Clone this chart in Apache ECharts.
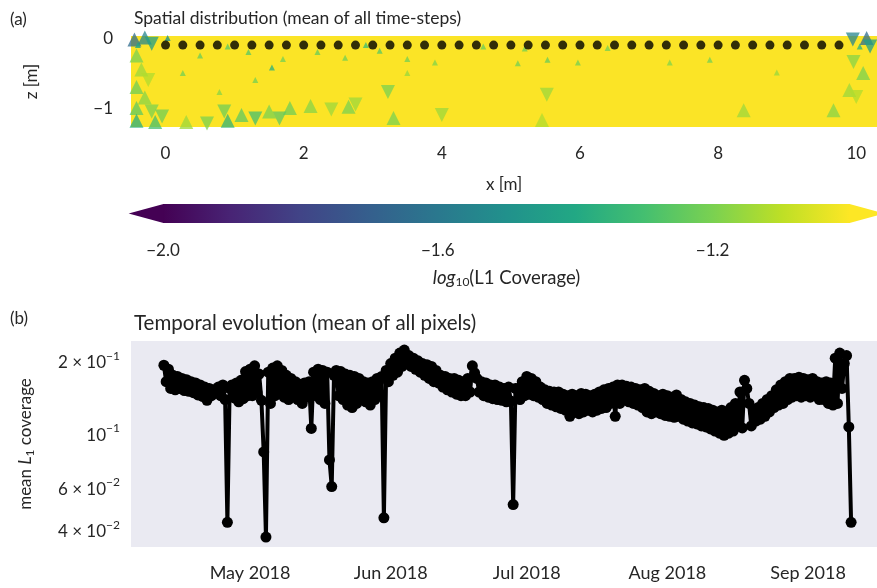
<!DOCTYPE html>
<html><head><meta charset="utf-8">
<script src="https://cdn.jsdelivr.net/npm/echarts@6/dist/echarts.min.js"></script>
<style>html,body{margin:0;padding:0;background:#fff}#c{width:877px;height:588px}</style>
</head><body><div id="c"></div>
<script>
// ---------- panel (a): spatial distribution ----------
const electrodeX = [0,0.25,0.5,0.75,1,1.25,1.5,1.75,2,2.25,2.5,2.75,3,3.25,3.5,3.75,4,4.25,4.5,4.75,
  5,5.25,5.5,5.75,6,6.25,6.5,6.75,7,7.25,7.5,7.75,8,8.25,8.5,8.75,9,9.25,9.5,9.75];
const electrodeZ = -0.1;
// mesh cells that differ from the (saturated) background: [x, z, log10 coverage]
const meshUp = [[-0.45,-0.02,-1.65],[-0.3,0.01,-1.55],[-0.42,-0.25,-1.2],[-0.35,-0.45,-1.15],[-0.42,-0.7,-1.22],
  [-0.3,-0.85,-1.18],[-0.42,-1.0,-1.25],[-0.42,-1.18,-1.38],[-0.15,-1.2,-1.3],[0.3,-1.2,-1.15],[0.9,-1.18,-1.35],
  [1.1,-1.1,-1.25],[1.5,-1.05,-1.2],[1.8,-1.0,-1.22],[2.1,-0.97,-1.18],[2.65,-0.98,-1.2],[3.3,-1.14,-1.2],
  [5.45,-1.17,-1.12],[9.67,-1.03,-1.18],[9.9,-0.74,-1.15],[8.37,-1.03,-1.15],[10.15,0.0,-1.65],[10.1,-0.5,-1.2]];
const meshDown = [[-0.2,-0.08,-1.45],[-0.25,-0.6,-1.12],[-0.2,-1.05,-1.2],[-0.05,-1.12,-1.22],[0.6,-1.22,-1.2],
  [0.85,-1.05,-1.22],[1.3,-1.15,-1.3],[1.65,-1.15,-1.25],[2.4,-1.02,-1.15],[2.75,-0.95,-1.15],[3.22,-0.77,-1.2],
  [4.0,-1.1,-1.15],[5.52,-0.81,-1.15],[9.95,-0.02,-1.55],[10.2,-0.12,-1.45],[10.0,-0.84,-1.12],[9.96,-0.34,-1.18]];
const meshSpecks = [[0.03,0.0,-1.5],[0.25,-0.5,-1.2],[0.78,-0.77,-1.17],[1.3,-0.6,-1.2],[1.54,-0.42,-1.35],
  [0.5,-0.25,-1.22],[1.2,-0.2,-1.25],[1.7,-0.3,-1.2],[2.2,-0.2,-1.22],[2.6,-0.28,-1.2],[3.1,-0.18,-1.25],
  [3.5,-0.3,-1.2],[3.5,-0.5,-1.15],[3.9,-0.35,-1.18],[5.2,-0.15,-1.2],[5.53,-0.31,-1.22],[5.97,-0.35,-1.2],
  [5.1,-0.36,-1.2],[7.3,-0.35,-1.18],[8.85,-0.49,-1.15],[7.88,-0.31,-1.2],[10.05,-0.12,-1.35],[-0.4,-0.1,-1.4],
  [4.6,-0.12,-1.22],[6.4,-0.14,-1.2],[0.9,-0.12,-1.25],[2.9,-0.1,-1.3]];
const xTicks = [0,2,4,6,8,10];
const zTicks = [0,-1];
const colorbarRange = [-2.0,-1.0];
const colorbarTicks = [-2.0,-1.6,-1.2];
const colorbarTickLabels = ['−2.0','−1.6','−1.2'];
const viridis = ['#440154','#482475','#414487','#355f8d','#2a788e','#21918c','#22a884','#44bf70','#7ad151','#bddf26','#fde725'];

// ---------- panel (b): temporal evolution (two samples per day, 00:00 and 12:00 UTC) ----------
const seriesStart = Date.UTC(2018,3,12);
const stepHours = 12;
const coverageApr = [0.187,0.160, 0.180,0.150, 0.170,0.148, 0.168,0.150, 0.165,0.147, 0.163,0.146, 0.160,0.144,
  0.158,0.141, 0.155,0.139, 0.152,0.134, 0.150,0.140, 0.148,0.146, 0.152,0.140, 0.155,0.135, 0.042,0.150,
  0.155,0.137, 0.158,0.132, 0.162,0.136, 0.176,0.140];
const coverageMay = [0.180,0.140, 0.186,0.145, 0.172,0.134, 0.082,0.0365, 0.175,0.130, 0.182,0.140, 0.186,0.146,
  0.178,0.138, 0.170,0.135, 0.165,0.140, 0.160,0.135, 0.156,0.130, 0.158,0.138, 0.160,0.1025, 0.175,0.140,
  0.180,0.135, 0.178,0.130, 0.175,0.076, 0.059,0.170, 0.178,0.140, 0.176,0.135, 0.172,0.128, 0.170,0.125,
  0.168,0.130, 0.165,0.135, 0.160,0.132, 0.158,0.128, 0.160,0.135, 0.165,0.140, 0.168,0.0438, 0.178,0.160];
const coverageJun = [0.190,0.170, 0.200,0.175, 0.210,0.185, 0.216,0.190, 0.205,0.185, 0.200,0.180, 0.195,0.175,
  0.190,0.170, 0.188,0.165, 0.185,0.160, 0.178,0.158, 0.170,0.152, 0.168,0.148, 0.165,0.145, 0.165,0.142,
  0.162,0.140, 0.160,0.140, 0.165,0.145, 0.186,0.174, 0.165,0.145, 0.160,0.140, 0.158,0.138, 0.155,0.136,
  0.155,0.135, 0.152,0.134, 0.150,0.132, 0.152,0.133, 0.0497,0.150, 0.150,0.135, 0.160,0.140];
const coverageJul = [0.168,0.142, 0.165,0.140, 0.160,0.138, 0.152,0.135, 0.148,0.130, 0.146,0.128, 0.145,0.126,
  0.145,0.124, 0.142,0.122, 0.140,0.115, 0.142,0.120, 0.140,0.118, 0.143,0.120, 0.142,0.122, 0.140,0.120,
  0.142,0.122, 0.145,0.124, 0.148,0.125, 0.150,0.130, 0.152,0.115, 0.155,0.130, 0.155,0.135, 0.153,0.132,
  0.152,0.130, 0.150,0.128, 0.148,0.125, 0.150,0.120, 0.146,0.118, 0.143,0.120, 0.140,0.118, 0.142,0.116];
const coverageAug = [0.140,0.115, 0.138,0.114, 0.141,0.115, 0.135,0.112, 0.132,0.110, 0.130,0.108, 0.128,0.107,
  0.126,0.105, 0.125,0.104, 0.124,0.102, 0.122,0.100, 0.120,0.098, 0.122,0.096, 0.120,0.098, 0.125,0.100,
  0.130,0.105, 0.145,0.103, 0.162,0.150, 0.130,0.105, 0.120,0.110, 0.125,0.112, 0.130,0.115, 0.135,0.120,
  0.140,0.125, 0.148,0.128, 0.155,0.130, 0.160,0.135, 0.165,0.138, 0.165,0.140, 0.167,0.138, 0.165,0.140];
const coverageSep = [0.163,0.138, 0.165,0.140, 0.160,0.135, 0.158,0.135, 0.160,0.130, 0.158,0.128, 0.200,0.130,
  0.210,0.150, 0.190,0.205, 0.104,0.042];
const monthTicks = [Date.UTC(2018,4,1),Date.UTC(2018,5,1),Date.UTC(2018,6,1),Date.UTC(2018,7,1),Date.UTC(2018,8,1)];
const monthLabels = ['May 2018','Jun 2018','Jul 2018','Aug 2018','Sep 2018'];
const yTicks = [0.04,0.06,0.1,0.2];
const yTickLabels = ['4 × 10{sup|−2}','6 × 10{sup|−2}','10{sup|−1}','2 × 10{sup|−1}'];

// ---------- build ----------
const FONT = "'Lato',sans-serif";
const TXT = '#262626';
const coverage = [].concat(coverageApr,coverageMay,coverageJun,coverageJul,coverageAug,coverageSep);
const coverageData = coverage.map((v,i)=>[seriesStart + i*stepHours*3600e3, v]);
const minus = v => (v<0?'−':'') + Math.abs(v);
const nearestIdx = (arr,v) => { let b=0; arr.forEach((a,i)=>{ if(Math.abs(a-v)<Math.abs(arr[b]-v)) b=i; }); return b; };
const supRich = { sup:{fontSize:12, lineHeight:8, verticalAlign:'top', fontFamily:FONT, color:TXT} };
const nameRich = {it:{fontStyle:'italic', fontSize:17, lineHeight:20, fontFamily:FONT, color:TXT},
  sub:{fontSize:12, lineHeight:10, verticalAlign:'bottom', fontFamily:FONT, color:TXT}};

const chart = echarts.init(document.getElementById('c'), null, {renderer:'canvas'});
const labelBase = {color:TXT, fontFamily:FONT, fontSize:17};
chart.setOption({
  animation:false,
  backgroundColor:'#ffffff',
  textStyle:{fontFamily:FONT},
  title:[
    {text:'(a)', left:5, top:6, textStyle:{fontSize:17, fontWeight:'normal', color:TXT, fontFamily:FONT}},
    {text:'Spatial distribution (mean of all time-steps)', left:129, top:4, textStyle:{fontSize:17.5, fontWeight:'normal', color:TXT, fontFamily:FONT}},
    {text:'(b)', left:5, top:305, textStyle:{fontSize:17, fontWeight:'normal', color:TXT, fontFamily:FONT}},
    {text:'Temporal evolution (mean of all pixels)', left:129, top:308, textStyle:{fontSize:20.5, fontWeight:'normal', color:TXT, fontFamily:FONT}}
  ],
  grid:[
    {left:131, top:36, width:746, height:91, show:true, backgroundColor:'#fbe426', borderWidth:0},
    {left:163, top:204, width:687, height:19},
    {left:131, top:341, width:746, height:206, show:true, backgroundColor:'#eaeaf2', borderWidth:0}
  ],
  xAxis:[
    {type:'value', gridIndex:0, min:-0.5, max:10.3, axisLine:{show:false}, axisTick:{show:false}, splitLine:{show:false},
     axisLabel:Object.assign({customValues:xTicks, margin:18, formatter:v=>minus(v)}, labelBase),
     name:'x [m]', nameLocation:'middle', nameGap:49, nameTextStyle:labelBase},
    {type:'value', gridIndex:1, min:colorbarRange[0], max:colorbarRange[1], axisLine:{show:false}, axisTick:{show:false}, splitLine:{show:false},
     axisLabel:Object.assign({customValues:colorbarTicks, margin:19, formatter:v=>colorbarTickLabels[nearestIdx(colorbarTicks,v)]}, labelBase),
     name:'{it|log}{sub|10}(L1 Coverage)', nameLocation:'middle', nameGap:45,
     nameTextStyle:Object.assign({rich:Object.assign({}, nameRich, {it:Object.assign({}, nameRich.it, {fontSize:18.5})})}, labelBase, {fontSize:18.5, lineHeight:20})},
    {type:'value', gridIndex:2, min:Date.UTC(2018,3,4,18), max:Date.UTC(2018,8,16,5), axisLine:{show:false}, axisTick:{show:false}, splitLine:{show:false},
     axisLabel:Object.assign({customValues:monthTicks, margin:17, hideOverlap:false,
       formatter:v=>monthLabels[nearestIdx(monthTicks,v)]}, labelBase, {fontSize:18})}
  ],
  yAxis:[
    {type:'value', gridIndex:0, min:-1.27, max:0.03, axisLine:{show:false}, axisTick:{show:false}, splitLine:{show:false},
     axisLabel:Object.assign({customValues:zTicks, margin:18, formatter:v=>minus(v)}, labelBase),
     name:'z [m]', nameLocation:'middle', nameRotate:90, nameGap:91, nameTextStyle:labelBase},
    {type:'value', gridIndex:1, min:0, max:1, show:false},
    {type:'log', logBase:10, gridIndex:2, min:0.0332, max:0.2355, axisLine:{show:false}, axisTick:{show:false},
     splitLine:{show:false}, minorTick:{show:false}, minorSplitLine:{show:false},
     axisLabel:Object.assign({customValues:yTicks, margin:11, rich:supRich, padding:[9,0,0,0],
       formatter:v=>yTickLabels[nearestIdx(yTicks,v)]}, labelBase, {lineHeight:26}),
     name:'mean {it|L}{sub|1} coverage', nameLocation:'middle', nameRotate:90, nameGap:95,
     nameTextStyle:Object.assign({rich:nameRich}, labelBase, {lineHeight:20})}
  ],
  visualMap:{show:false, type:'continuous', min:colorbarRange[0], max:colorbarRange[1], dimension:2,
    seriesIndex:[0,1,2], inRange:{color:viridis}},
  series:[
    {type:'scatter', xAxisIndex:0, yAxisIndex:0, data:meshUp, symbol:'triangle', symbolSize:14, silent:true, itemStyle:{opacity:0.75}},
    {type:'scatter', xAxisIndex:0, yAxisIndex:0, data:meshDown, symbol:'triangle', symbolRotate:180, symbolSize:14, silent:true, itemStyle:{opacity:0.75}},
    {type:'scatter', xAxisIndex:0, yAxisIndex:0, data:meshSpecks, symbol:'triangle', symbolSize:6, silent:true, itemStyle:{opacity:0.8}},
    {type:'scatter', xAxisIndex:0, yAxisIndex:0, data:electrodeX.map(x=>[x,electrodeZ]), symbol:'circle', symbolSize:9,
     itemStyle:{color:'#000'}, silent:true},
    {type:'custom', xAxisIndex:1, yAxisIndex:1, data:[colorbarRange], silent:true, clip:false,
     renderItem:(params, api)=>{
       const a = api.value(0), b = api.value(1), ext = (b-a)*0.05;
       const p0 = api.coord([a,0]), p1 = api.coord([b,1]);
       const pl = api.coord([a-ext,0.5]), pr = api.coord([b+ext,0.5]);
       const stops = viridis.map((c,i)=>({offset:i/(viridis.length-1), color:c}));
       return {type:'group', children:[
         {type:'rect', shape:{x:p0[0], y:p1[1], width:p1[0]-p0[0], height:p0[1]-p1[1]},
          style:{fill:new echarts.graphic.LinearGradient(0,0,1,0,stops)}},
         {type:'polygon', shape:{points:[[p0[0]+0.5,p1[1]],[p0[0]+0.5,p0[1]],[pl[0],pl[1]]]}, style:{fill:viridis[0]}},
         {type:'polygon', shape:{points:[[p1[0]-0.5,p1[1]],[p1[0]-0.5,p0[1]],[pr[0],pr[1]]]}, style:{fill:viridis[viridis.length-1]}}
       ]};
     }},
    {type:'line', xAxisIndex:2, yAxisIndex:2, data:coverageData, showSymbol:true, showAllSymbol:true, symbol:'circle',
     symbolSize:11, lineStyle:{color:'#000', width:4}, itemStyle:{color:'#000'}, silent:true}
  ]
});
</script></body></html>
